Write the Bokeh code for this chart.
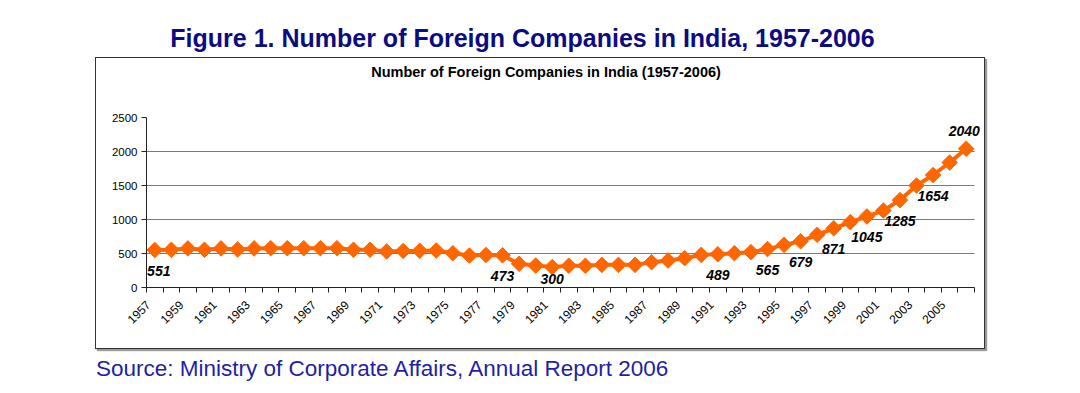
import math
from bokeh.plotting import figure
from bokeh.layouts import column, row
from bokeh.models import (ColumnDataSource, LabelSet, FixedTicker, Range1d,
                          Grid, Div, Spacer, CustomJSTickFormatter)
from bokeh.core.properties import value
from bokeh.embed import file_html
from bokeh.resources import INLINE

# ---------------- data ----------------
years = [1957, 1958, 1959, 1960, 1961, 1962, 1963, 1964, 1965, 1966,
         1967, 1968, 1969, 1970, 1971, 1972, 1973, 1974, 1975, 1976,
         1977, 1978, 1979, 1980, 1981, 1982, 1983, 1984, 1985, 1986,
         1987, 1988, 1989, 1990, 1991, 1992, 1993, 1994, 1995, 1996,
         1997, 1998, 1999, 2000, 2001, 2002, 2003, 2004, 2005, 2006]
companies = [551, 555, 575, 555, 575, 560, 575, 578, 578, 578,
             578, 578, 555, 555, 530, 538, 540, 544, 505, 470,
             478, 473, 348, 323, 300, 320, 320, 333, 333, 333,
             372, 397, 431, 480, 489, 505, 520, 565, 627, 679,
             775, 871, 961, 1045, 1132, 1285, 1500, 1654, 1838, 2040]
label_years = [1957, 1978, 1981, 1991, 1994, 1996, 1998, 2000, 2002, 2004, 2006]
y_ticks = [0, 500, 1000, 1500, 2000, 2500]
x_label_years = [1957, 1959, 1961, 1963, 1965, 1967, 1969, 1971, 1973, 1975,
                 1977, 1979, 1981, 1983, 1985, 1987, 1989, 1991, 1993, 1995,
                 1997, 1999, 2001, 2003, 2005]
figure_title = "Figure 1. Number of Foreign Companies in India, 1957-2006"
chart_title = "Number of Foreign Companies in India (1957-2006)"
source_note = "Source: Ministry of Corporate Affairs, Annual Report 2006"

# ---------------- layout constants ----------------
FONT = "Liberation Sans"
CSSFONT = "'Liberation Sans', Arial, sans-serif"
ORANGE = "#ff6600"
BOX_X, BOX_W = 95, 888          # chart box left / width (page px)
HEAD_H = 57                     # page area above the chart box
INNER_T_H = 30                  # inner-title strip inside the box
FIG_H = 260                     # plot canvas inside the box
FR_L, FR_R_MAIN, FR_EXTRA = 50, 878, 8   # frame left/right inside the box
FR_T, FR_B = 29, 199            # frame top/bottom inside the plot canvas
LABEL_SHIFT = 0.4               # x tick labels sit slightly left of their year

n = len(years)
frame_w = FR_R_MAIN - FR_L
extra = FR_EXTRA / frame_w * n      # a little room for the last label
x0, x1 = years[0] - 0.5, years[-1] + 0.5

p = figure(width=BOX_W, height=FIG_H, output_backend="svg", toolbar_location=None,
           x_range=Range1d(x0, x1 + extra),
           y_range=Range1d(y_ticks[0], y_ticks[-1]),
           min_border_left=FR_L, min_border_right=BOX_W - FR_R_MAIN - FR_EXTRA,
           min_border_top=FR_T, min_border_bottom=FIG_H - FR_B)
p.outline_line_color = None
p.background_fill_color = "white"
p.border_fill_color = "white"

has_cross = "cross_bounds" in Grid.properties()

# grid
p.xgrid.visible = False
p.ygrid.ticker = FixedTicker(ticks=y_ticks[1:-1])
p.ygrid.grid_line_color = "#7a7a7a"
p.ygrid.grid_line_width = 1
top_grid = Grid(dimension=1, ticker=FixedTicker(ticks=[y_ticks[-1]]),
                grid_line_color="#d8d8d8", grid_line_width=1)
if has_cross:
    p.ygrid.cross_bounds = (x0, x1)
    top_grid.cross_bounds = (x0, x1)
p.add_layout(top_grid)

# y axis
p.yaxis.ticker = FixedTicker(ticks=y_ticks)
p.yaxis.axis_line_color = "#222222"
p.yaxis.major_tick_line_color = "#222222"
p.yaxis.major_tick_out = 5
p.yaxis.major_tick_in = 0
p.yaxis.minor_tick_line_color = None
p.yaxis.major_label_text_font = FONT
p.yaxis.major_label_text_font_size = "11.5px"
p.yaxis.major_label_text_color = "black"
p.yaxis.major_label_standoff = 4

# x axis
minor = [y - 0.5 for y in years] + [years[-1] + 0.5]
p.xaxis.ticker = FixedTicker(ticks=[y - LABEL_SHIFT for y in x_label_years],
                             minor_ticks=minor)
p.xaxis.formatter = CustomJSTickFormatter(
    code=f"return Math.round(tick + {LABEL_SHIFT}).toString();")
p.xaxis.bounds = (x0, x1)
p.xaxis.axis_line_color = "#222222"
p.xaxis.major_tick_line_color = None
p.xaxis.minor_tick_line_color = "#222222"
p.xaxis.minor_tick_out = 5
p.xaxis.minor_tick_in = 0
p.xaxis.major_label_orientation = math.pi / 4
p.xaxis.major_label_text_font = FONT
p.xaxis.major_label_text_font_size = "12px"
p.xaxis.major_label_text_color = "black"
p.xaxis.major_label_standoff = 9

# series
src = ColumnDataSource(dict(year=years, n=companies))
p.line("year", "n", source=src, line_color=ORANGE, line_width=4)
p.scatter("year", "n", source=src, marker="square", angle=math.pi / 4,
          size=11, fill_color=ORANGE, line_color=ORANGE)

lab_vals = [companies[years.index(y)] for y in label_years]
def _off(v, i):
    if i == len(label_years) - 1:
        return 18           # last label sits above its point
    if v < 400:
        return -12          # low point: label squeezed above the axis
    return -21
lab_off = [_off(v, i) for i, v in enumerate(lab_vals)]
lab_xoff = [4 if i == 0 else (-2 if i == len(label_years) - 1 else 0)
            for i in range(len(label_years))]
lsrc = ColumnDataSource(dict(year=label_years, n=lab_vals,
                             txt=[str(v) for v in lab_vals],
                             off=lab_off, xoff=lab_xoff))
p.add_layout(LabelSet(x="year", y="n", text="txt", source=lsrc,
                      x_offset="xoff", y_offset="off", text_align="center",
                      text_baseline="middle", text_font=value(FONT),
                      text_font_size=value("14px"),
                      text_font_style="bold italic",
                      text_color="black"))

# ---------------- texts as page elements ----------------
title_div = Div(
    text=(f'<div style="font-family:{CSSFONT};font-weight:bold;font-size:25px;'
          f'line-height:25px;color:#0b0b82;text-align:center;width:1045px;'
          f'padding-top:26px;margin:0;white-space:nowrap;">{figure_title}</div>'),
    width=1080, height=HEAD_H, margin=(0, 0, 0, 0))

inner_div = Div(
    text=(f'<div style="font-family:{CSSFONT};font-weight:bold;font-size:14.5px;'
          f'line-height:14.5px;color:black;text-align:center;width:{BOX_W}px;'
          f'position:relative;left:6px;padding-top:7px;margin:0;'
          f'white-space:nowrap;">{chart_title}</div>'),
    width=BOX_W, height=INNER_T_H, margin=(0, 0, 0, 0),
    styles={"background-color": "white"})

source_div = Div(
    text=(f'<div style="font-family:{CSSFONT};font-size:22.5px;line-height:22.5px;'
          f'color:#1f1fa5;padding-top:9px;padding-left:96px;margin:0;'
          f'white-space:nowrap;">{source_note}</div>'),
    width=1080, height=36, margin=(0, 0, 0, 0))

p.margin = (0, 0, 0, 0)
box = column(inner_div, p, spacing=0, margin=(0, 0, 0, 0),
             styles={"border": "1.5px solid #333333",
                     "box-shadow": "2px 2px 1px #9a9a9a",
                     "background-color": "white"})
mid = row(Spacer(width=BOX_X, height=INNER_T_H + FIG_H, margin=(0, 0, 0, 0)), box,
          spacing=0, margin=(0, 0, 0, 0))
root = column(title_div, mid, source_div, spacing=0, margin=(0, 0, 0, 0))

open("out.html", "w").write(file_html(root, INLINE))
